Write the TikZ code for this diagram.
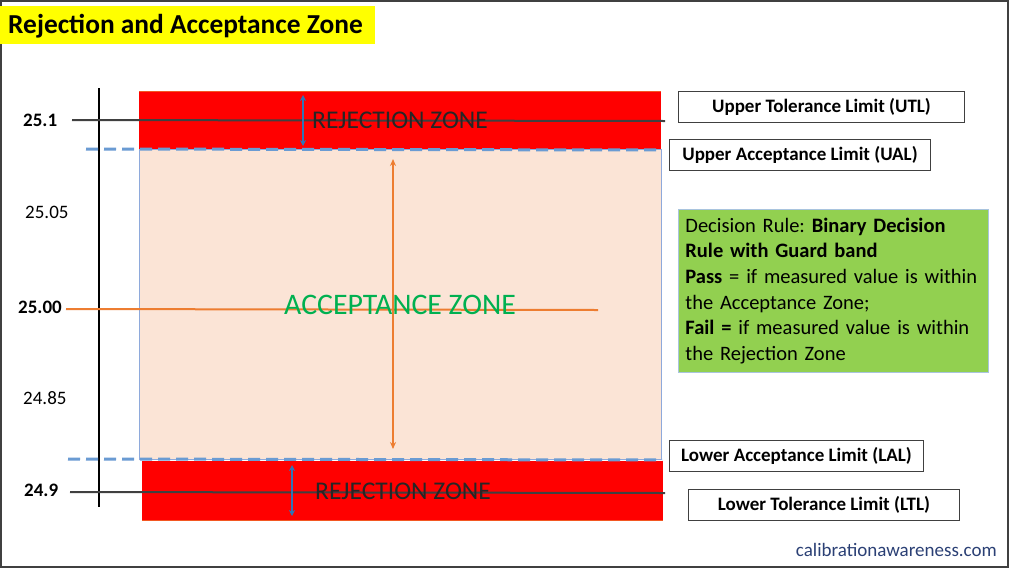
\documentclass[tikz,border=0pt]{standalone}
\usepackage{fontspec}
\setmainfont{Carlito}
\usetikzlibrary{arrows.meta}
\definecolor{zred}{HTML}{FF0000}
\definecolor{peach}{HTML}{FBE4D6}
\definecolor{accborder}{HTML}{8EA9DB}
\definecolor{dashblue}{HTML}{6A9BD3}
\definecolor{arrblue}{HTML}{2E75B6}
\definecolor{zorange}{HTML}{ED7D31}
\definecolor{zgreen}{HTML}{00B050}
\definecolor{boxgreen}{HTML}{92D050}
\definecolor{boxedge}{HTML}{A9C4DE}
\definecolor{darkline}{HTML}{404040}
\definecolor{webblue}{HTML}{2B4075}
\definecolor{titleyellow}{HTML}{FFFF00}
\frenchspacing
\tikzset{
  limitbox/.style={draw=darkline, line width=1pt, fill=white, anchor=north west, inner sep=0pt,
    font=\fontsize{19}{21}\selectfont\bfseries},
  axislabel/.style={font=\fontsize{19}{21}\selectfont, inner sep=0pt},
  boldaxislabel/.style={font=\fontsize{19}{21}\selectfont\bfseries, inner sep=0pt},
  zonetext/.style={font=\fontsize{25.5}{28}\selectfont, inner sep=0pt},
  limitline/.style={draw=darkline, line width=2pt},
  guard/.style={draw=dashblue, line width=3pt, dash pattern=on 12pt off 6pt},
  bluearrow/.style={draw=arrblue, line width=2pt, {Stealth[length=6pt,width=6pt]}-{Stealth[length=6pt,width=6pt]}},
  orangearrow/.style={draw=zorange, line width=1.8pt, {Stealth[length=7pt,width=6pt]}-{Stealth[length=7pt,width=6pt]}}
}
\begin{document}
\begin{tikzpicture}[x=1pt,y=-1pt]
\useasboundingbox (0,0) rectangle (1024,576);
\fill[white] (0,0) rectangle (1024,576);
% frame
\draw[darkline, line width=1.5pt] (1,1) rectangle (1008,567);
% title
\node[fill=titleyellow, anchor=north west, minimum width=375pt, minimum height=38pt, inner sep=0pt] (titlebox) at (0,6) {};
\node[anchor=west, inner sep=0pt, font=\fontsize{27.4}{30}\selectfont\bfseries] (title) at (8,26) {Rejection and Acceptance Zone};
% zones
\fill[zred] (139,91) rectangle (661,149);
\draw[zorange!70!red, line width=0.6pt] (139,91) -- (661,91);
\fill[peach] (139,149) rectangle (661,459);
\draw[accborder, line width=0.8pt] (139,149) rectangle (661,459);
\fill[zred] (142,461) rectangle (663,520);
\draw[zorange!70!red, line width=0.6pt] (142,520) -- (663,520);
% axis
\coordinate (axtop) at (99,88);
\coordinate (axbot) at (99,507);
\draw[black, line width=2pt] (axtop) -- (axbot);
% limit lines
\coordinate (utlA) at (72,120); \coordinate (utlB) at (665,121);
\coordinate (ltlA) at (70,492); \coordinate (ltlB) at (665,493);
\draw[limitline] (utlA) -- (utlB);
\draw[limitline] (ltlA) -- (ltlB);
% nominal line
\coordinate (nomA) at (66,309); \coordinate (nomB) at (598,310);
\draw[zorange, line width=2pt] (nomA) -- (nomB);
% guard band lines
\coordinate (ualA) at (86,149); \coordinate (ualB) at (660,150);
\coordinate (lalA) at (68,459); \coordinate (lalB) at (662,460);
\draw[guard] (ualA) -- (ualB);
\draw[guard] (lalA) -- (lalB);
% arrows
\coordinate (rt1) at (303,95); \coordinate (rt2) at (303,146);
\coordinate (rb1) at (292,465); \coordinate (rb2) at (292,516);
\draw[bluearrow] (rt1) -- (rt2);
\draw[bluearrow] (rb1) -- (rb2);
\coordinate (ac1) at (393,159); \coordinate (ac2) at (393,449);
\draw[orangearrow] (ac1) -- (ac2);
% zone texts
\node[zonetext, anchor=west, text=black!85] (rejtop) at (312,120) {REJECTION ZONE};
\node[zonetext, anchor=west, text=black!85] (rejbot) at (315,491) {REJECTION ZONE};
\node[font=\fontsize{29.8}{32}\selectfont, inner sep=0pt, text=zgreen] (acc) at (400,305) {ACCEPTANCE ZONE};
% axis labels
\node[boldaxislabel, anchor=west] (l251) at (23,120) {25.1};
\node[axislabel, anchor=west] (l2505) at (25,212) {25.05};
\node[boldaxislabel, anchor=west] (l2500) at (18,307) {25.00};
\node[axislabel, anchor=west] (l2485) at (23,398) {24.85};
\node[boldaxislabel, anchor=west] (l249) at (24,490) {24.9};
% limit boxes
\node[limitbox, minimum width=286pt, minimum height=31pt] (utl) at (678,91) {Upper Tolerance Limit (UTL)};
\node[limitbox, minimum width=261pt, minimum height=31pt] (ual) at (669,139) {Upper Acceptance Limit (UAL)};
\node[limitbox, minimum width=254pt, minimum height=31pt] (lal) at (669,440) {Lower Acceptance Limit (LAL)};
\node[limitbox, minimum width=271pt, minimum height=31pt] (ltl) at (688,489) {Lower Tolerance Limit (LTL)};
% decision rule box
\node[fill=boxgreen, draw=boxedge, line width=0.8pt, anchor=north west, minimum width=310pt, minimum height=163pt,
  inner sep=0pt, text width=296pt, align=left, font=\fontsize{20.5}{25.6}\selectfont] (rule) at (678,209)
  {Decision Rule: \textbf{Binary Decision}\\
   \textbf{Rule with Guard band}\\
   \textbf{Pass} = if measured value is within\\
   the Acceptance Zone;\\
   \textbf{Fail =} if measured value is within\\
   the Rejection Zone};
% website
\node[anchor=east, inner sep=0pt, text=webblue, font=\fontsize{19}{21}\selectfont] (web) at (997,550) {calibrationawareness.com};
\end{tikzpicture}
\end{document}
